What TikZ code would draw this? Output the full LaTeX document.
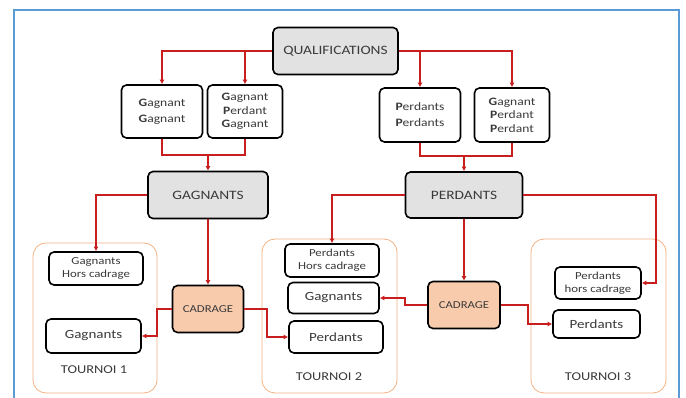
\documentclass[tikz,border=0pt]{standalone}
\usepackage{fontspec}
\setmainfont{Carlito}[FakeStretch=1.2]
\usetikzlibrary{arrows.meta}
\definecolor{txt}{HTML}{3A3A3A}
\definecolor{lnk}{HTML}{C81E1E}
\definecolor{frm}{HTML}{5B9BD5}
\definecolor{grayfill}{HTML}{E2E2E2}
\definecolor{peach}{HTML}{F8CBAD}
\definecolor{tourc}{HTML}{F4B183}
\begin{document}
\begin{tikzpicture}[x=1pt,y=-1pt,
 box/.style={draw=black, line width=1.6pt, rounded corners=5pt, fill=white, text=txt, align=center, inner sep=0pt, font=\fontsize{12.5}{14}\selectfont},
 two/.style={font=\fontsize{11.3}{16}\selectfont},
 three/.style={font=\fontsize{11.3}{13.5}\selectfont},
 graybox/.style={box, fill=grayfill, font=\fontsize{12.8}{14}\selectfont},
 cadbox/.style={box, fill=peach, font=\fontsize{10.6}{12}\selectfont},
 small/.style={font=\fontsize{10.7}{13}\selectfont},
 tour/.style={draw=tourc, line width=0.8pt, rounded corners=13pt},
 tlabel/.style={text=txt, font=\fontsize{12}{14}\selectfont, inner sep=0pt},
 link/.style={draw=lnk, line width=2pt, -{Latex[length=4.5pt,width=5pt]}},
 plain/.style={draw=lnk, line width=2pt}
]
\useasboundingbox (0,0) rectangle (686,398);
% frame
\draw[frm, line width=2.5pt] (14,410) -- (14,10) -- (679,10) -- (679,410);
% tournoi outlines
\node[tour, minimum width=124, minimum height=150] (t1) at (95,318) {};
\node[tour, minimum width=135, minimum height=154] (t2) at (329.5,316) {};
\node[tour, minimum width=135, minimum height=154] (t3) at (598.5,316) {};
\node[tlabel] (t1l) at (94,370) {TOURNOI 1};
\node[tlabel] (t2l) at (329,377) {TOURNOI 2};
\node[tlabel] (t3l) at (598,377) {TOURNOI 3};
% boxes
\node[graybox, minimum width=125, minimum height=47] (qual) at (335.5,51) {QUALIFICATIONS};
\node[box, two, minimum width=81, minimum height=53] (gg) at (162,111.5) {\textbf{G}agnant\\\textbf{G}agnant};
\node[box, three, minimum width=75, minimum height=53] (gpg) at (245,111.5) {\textbf{G}agnant\\\textbf{P}erdant\\\textbf{G}agnant};
\node[box, two, minimum width=81, minimum height=54] (pp) at (420,115) {\textbf{P}erdants\\\textbf{P}erdants};
\node[box, three, minimum width=75, minimum height=54] (gpp) at (512,115) {\textbf{G}agnant\\\textbf{P}erdant\\\textbf{P}erdant};
\node[graybox, minimum width=120, minimum height=47] (gagn) at (208,195) {GAGNANTS};
\node[graybox, minimum width=117, minimum height=46] (pd) at (464,195) {PERDANTS};
\node[cadbox, minimum width=71, minimum height=47] (cad1) at (208,309) {CADRAGE};
\node[cadbox, minimum width=72, minimum height=47] (cad2) at (464,305) {CADRAGE};
\node[box, small, minimum width=94, minimum height=33] (ghc) at (96,268.5) {Gagnants\\Hors cadrage};
\node[box, minimum width=95, minimum height=34] (g1) at (93.5,336) {Gagnants};
\node[box, small, minimum width=94, minimum height=33] (phc2) at (332,260.5) {Perdants\\Hors cadrage};
\node[box, minimum width=91, minimum height=31] (g2) at (333.5,298) {Gagnants};
\node[box, minimum width=94, minimum height=32] (p2) at (336,337) {Perdants};
\node[box, small, minimum width=86, minimum height=32] (phc3) at (598,283) {Perdants\\hors cadrage};
\node[box, minimum width=87, minimum height=28] (p3) at (596.5,324) {Perdants};
% connectors top
\draw[link] (qual.west) -| (gg.north);
\draw[link] (gpg.north |- qual.west) -- (gpg.north);
\draw[link] (qual.east) -| (gpp.north);
\draw[link] (pp.north |- qual.east) -- (pp.north);
\coordinate (j1) at (208,155);
\coordinate (j2) at (464,156);
\draw[plain] (gg.south) |- (j1) -| (gpg.south);
\draw[link] (j1) -- (gagn.north);
\draw[plain] (pp.south) |- (j2) -| (gpp.south);
\draw[link] (j2) -- (pd.north);
% connectors bottom
\draw[link] (gagn.west) -| (ghc.north);
\draw[link] (gagn.south) -- (cad1.north);
\draw[link] (cad1.west) -- ++(-15,0) |- (g1.east);
\draw[link] (cad1.east) -- ++(23,0) |- (p2.west);
\draw[link] (pd.west) -| (phc2.north);
\draw[link] (pd.south) -- (cad2.north);
\draw[link] (cad2.west) -- ++(-22,0) |- (g2.east);
\draw[link] (cad2.east) -- ++(27,0) |- (p3.west);
\coordinate (r3) at (656,0);
\draw[link] (pd.east) -- (pd.east -| r3) |- (phc3.east);
\end{tikzpicture}
\end{document}
